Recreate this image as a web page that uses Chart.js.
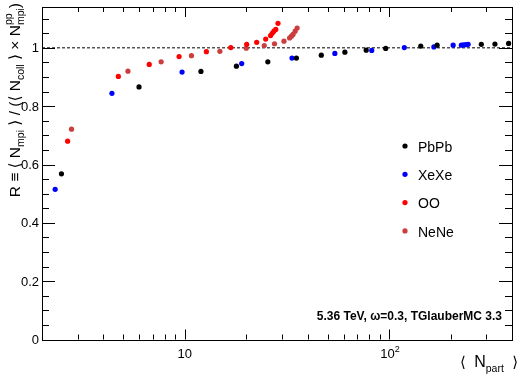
<!DOCTYPE html>
<html>
<head>
<meta charset="utf-8">
<script src="https://cdn.jsdelivr.net/npm/chart.js@4"></script>
<style>
  html, body { margin: 0; padding: 0; background: #fff; }
  canvas { display: block; }
</style>
</head>
<body>
<canvas id="chart" width="523" height="377"></canvas>
<script>
// values
const pbpbNpart = [2.49, 5.97, 12.0, 17.9, 25.5, 35.2, 46.6, 60.8, 77.3, 96.3, 143, 172, 283, 330, 385];
const pbpbR = [0.568, 0.866, 0.919, 0.937, 0.952, 0.965, 0.975, 0.985, 0.992, 0.998, 1.006, 1.009, 1.012, 1.013, 1.015];

const xexeNpart = [2.32, 4.40, 9.70, 19.0, 33.5, 54.3, 82.3, 118.8, 165.8, 206, 226, 232, 238, 244];
const xexeR = [0.515, 0.844, 0.917, 0.946, 0.965, 0.981, 0.991, 1.001, 1.003, 1.009, 1.009, 1.010, 1.011, 1.012];

const ooNpart = [2.67, 4.73, 6.70, 9.38, 12.76, 16.8, 20.1, 22.5, 24.9, 26.3, 26.8, 27.3, 27.9, 28.6];
const ooR = [0.680, 0.902, 0.943, 0.970, 0.987, 1.001, 1.012, 1.019, 1.030, 1.042, 1.050, 1.057, 1.063, 1.084];

const neneNpart = [2.79, 5.27, 7.66, 10.78, 14.86, 20.0, 24.5, 27.5, 30.6, 32.6, 33.3, 33.9, 34.7, 35.5];
const neneR = [0.721, 0.920, 0.952, 0.973, 0.988, 0.999, 1.008, 1.014, 1.023, 1.034, 1.040, 1.046, 1.057, 1.068];

const seriesNames = ['PbPb', 'XeXe', 'OO', 'NeNe'];
const refLineX = [2, 400];
const refLineY = [1, 1];

const xMajorTicks = [10, 100];
const xMinorTicks = [3, 4, 5, 6, 7, 8, 9, 20, 30, 40, 50, 60, 70, 80, 90, 200, 300, 400];
const yMajorTicks = [0, 0.2, 0.4, 0.6, 0.8, 1];
const yTickLabels = ['0', '0.2', '0.4', '0.6', '0.8', '1'];
const yMinorTicks = [0.05, 0.1, 0.15, 0.25, 0.3, 0.35, 0.45, 0.5, 0.55, 0.65, 0.7, 0.75, 0.85, 0.9, 0.95, 1.05, 1.1];

const FONT = '"Liberation Sans", Arial, "DejaVu Sans", sans-serif';

const toPoints = (xs, ys) => xs.map((x, i) => ({ x, y: ys[i] }));

function scatterSet(label, xs, ys, color) {
  return {
    type: 'scatter',
    label,
    data: toPoints(xs, ys),
    backgroundColor: color,
    borderWidth: 0,
    pointRadius: 2.6,
    pointHoverRadius: 2.6,
  };
}

// rich text: parts = [{t, size, dy, bold}] or stacked {sup, sub}
function richWidth(ctx, parts) {
  let w = 0;
  parts.forEach((p) => {
    if (p.stack) {
      ctx.font = `${p.size}px ${FONT}`;
      p.w = Math.max(ctx.measureText(p.sup).width, ctx.measureText(p.sub).width);
    } else {
      ctx.font = `${p.bold ? 'bold ' : ''}${p.size}px ${FONT}`;
      p.w = ctx.measureText(p.t).width;
    }
    w += p.w;
  });
  return w;
}

function drawRich(ctx, parts, x, y) {
  let cx = x;
  parts.forEach((p) => {
    ctx.font = `${p.bold ? 'bold ' : ''}${p.size}px ${FONT}`;
    if (p.stack) {
      ctx.fillText(p.sup, cx, y + p.supDy);
      ctx.fillText(p.sub, cx, y + p.subDy);
    } else {
      ctx.fillText(p.t, cx, y + (p.dy || 0));
    }
    cx += p.w;
  });
}

const rootFrame = {
  id: 'rootFrame',
  afterDraw(chart) {
    const { ctx, chartArea: a, scales } = chart;
    const xs = scales.x;
    const ys = scales.y;
    ctx.save();
    ctx.strokeStyle = '#000';
    ctx.lineWidth = 1;
    ctx.beginPath();
    xMajorTicks.concat(xMinorTicks).forEach((v) => {
      const len = xMajorTicks.includes(v) ? 10 : 5;
      const px = Math.round(xs.getPixelForValue(v)) + 0.5;
      ctx.moveTo(px, a.bottom); ctx.lineTo(px, a.bottom - len);
      ctx.moveTo(px, a.top); ctx.lineTo(px, a.top + len);
    });
    yMajorTicks.concat(yMinorTicks).forEach((v) => {
      const len = yMajorTicks.includes(v) ? 13 : 7;
      const py = Math.round(ys.getPixelForValue(v)) + 0.5;
      ctx.moveTo(a.left, py); ctx.lineTo(a.left + len, py);
      ctx.moveTo(a.right, py); ctx.lineTo(a.right - len, py);
    });
    ctx.stroke();
    ctx.strokeRect(Math.round(a.left) + 0.5, Math.round(a.top) + 0.5,
      Math.round(a.right - a.left), Math.round(a.bottom - a.top));

    ctx.fillStyle = '#000';
    // y tick labels
    ctx.font = `13px ${FONT}`;
    ctx.textAlign = 'right';
    ctx.textBaseline = 'middle';
    yMajorTicks.forEach((v, i) => {
      ctx.fillText(yTickLabels[i], a.left - 3, ys.getPixelForValue(v) + 1);
    });

    // x tick labels
    ctx.textAlign = 'left';
    ctx.textBaseline = 'alphabetic';
    const labelsX = [
      [{ t: '10', size: 13 }],
      [{ t: '10', size: 13 }, { t: '2', size: 9, dy: -6 }],
    ];
    xMajorTicks.forEach((v, i) => {
      const parts = labelsX[i];
      const w = richWidth(ctx, parts);
      drawRich(ctx, parts, xs.getPixelForValue(v) - w / 2 + (i ? 1 : 0), a.bottom + 18);
    });

    // x title
    const xTitle = [
      { t: '\u27E8  ', size: 15 }, { t: 'N', size: 16 }, { t: 'part', size: 10.5, dy: 5 }, { t: '  \u27E9', size: 15 },
    ];
    const xw = richWidth(ctx, xTitle);
    drawRich(ctx, xTitle, 518 - xw, 367);

    // y title (rotated)
    const s = 15.5;
    const sub = 10.5;
    const yTitle = [
      { t: 'R \u2261 \u27E8 ', size: s }, { t: 'N', size: s }, { t: 'mpi', size: sub, dy: 4 },
      { t: ' \u27E9 / (\u27E8 ', size: s }, { t: 'N', size: s }, { t: 'coll', size: sub, dy: 4 },
      { t: ' \u27E9 \u00D7 ', size: s }, { t: 'N', size: s },
      { stack: true, sup: 'pp', sub: 'mpi', size: sub, supDy: -8, subDy: 4 },
      { t: ')', size: s },
    ];
    const yw = richWidth(ctx, yTitle);
    ctx.save();
    ctx.translate(20, 3 + yw);
    ctx.rotate(-Math.PI / 2);
    drawRich(ctx, yTitle, 0, 0);
    ctx.restore();

    // annotation
    ctx.font = `bold 12px ${FONT}`;
    ctx.textAlign = 'right';
    ctx.fillText('5.36 TeV, \u03C9=0.3, TGlauberMC 3.3', 502, 320);

    // legend
    ctx.textAlign = 'left';
    ctx.textBaseline = 'middle';
    ctx.font = `14px ${FONT}`;
    seriesNames.forEach((name, i) => {
      const ds = chart.data.datasets[i];
      const cy = 146 + i * 28.3;
      ctx.fillStyle = ds.backgroundColor;
      ctx.beginPath();
      ctx.arc(405, cy, 2.6, 0, Math.PI * 2);
      ctx.fill();
      ctx.fillStyle = '#000';
      ctx.fillText(name, 418, cy + 2);
    });
    ctx.restore();
  },
};

new Chart(document.getElementById('chart'), {
  data: {
    datasets: [
      scatterSet(seriesNames[0], pbpbNpart, pbpbR, '#000000'),
      scatterSet(seriesNames[1], xexeNpart, xexeR, '#0000ff'),
      scatterSet(seriesNames[2], ooNpart, ooR, '#ff0000'),
      scatterSet(seriesNames[3], neneNpart, neneR, '#cc3d3d'),
      {
        type: 'line',
        label: 'ref',
        data: toPoints(refLineX, refLineY),
        borderColor: '#000',
        borderWidth: 1,
        borderDash: [3, 2],
        pointRadius: 0,
        order: 10,
      },
    ],
  },
  plugins: [rootFrame],
  options: {
    responsive: false,
    animation: false,
    devicePixelRatio: 1,
    layout: { padding: { left: 42, right: 11, top: 7, bottom: 37.5 } },
    plugins: { legend: { display: false }, tooltip: { enabled: false } },
    scales: {
      x: { type: 'logarithmic', min: 2, max: 400, display: false },
      y: { type: 'linear', min: 0, max: 1.14, display: false },
    },
  },
});
</script>
</body>
</html>
